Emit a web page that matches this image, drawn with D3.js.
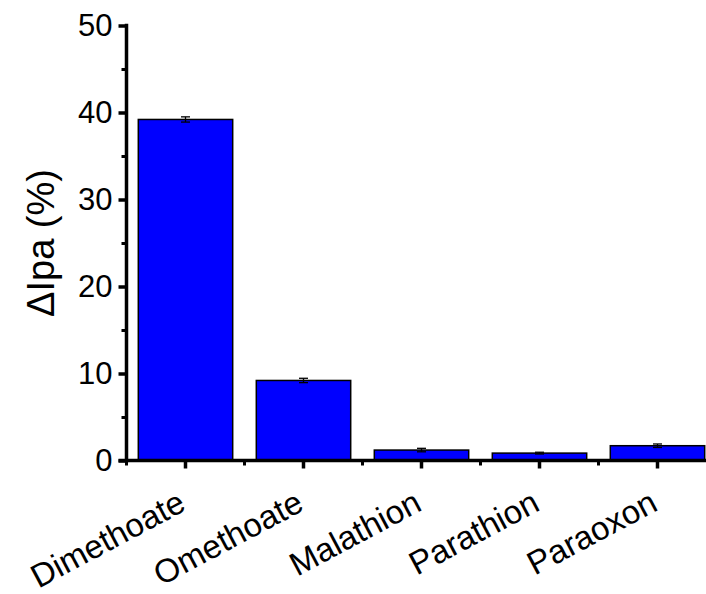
<!DOCTYPE html>
<html>
<head>
<meta charset="utf-8">
<script src="https://cdn.jsdelivr.net/npm/d3@7"></script>
<style>
  html, body { margin: 0; padding: 0; background: #fff; }
  svg { display: block; }
  text { font-family: "Liberation Sans", Arial, sans-serif; fill: #000; }
</style>
</head>
<body>
<svg id="chart" width="706" height="594"></svg>
<script>
// Pesticide response data
const categories = ["Dimethoate", "Omethoate", "Malathion", "Parathion", "Paraoxon"];
const values = [39.2, 9.2, 1.2, 0.85, 1.7];
const errors = [0.3, 0.25, 0.2, 0.1, 0.2];
const yTicks = [0, 10, 20, 30, 40, 50];
const yMinorTicks = [5, 15, 25, 35, 45];
const yTitle = "\u0394Ipa (%)";

const svg = d3.select("#chart");
const x0 = 126.5, step = 118;
const fontFamily = "'Liberation Sans', Arial, sans-serif";

const x = d3.scaleBand()
  .domain(categories)
  .range([x0, x0 + step * categories.length])
  .paddingInner(0.2)
  .paddingOuter(0.1);

const y = d3.scaleLinear().domain([0, 50]).range([460.5, 25.5]);

// Bars
svg.append("g").selectAll("rect")
  .data(categories)
  .join("rect")
  .attr("x", d => x(d))
  .attr("y", (d, i) => y(values[i]))
  .attr("width", x.bandwidth())
  .attr("height", (d, i) => y(0) - y(values[i]))
  .attr("fill", "#0000ff")
  .attr("stroke", "#000")
  .attr("stroke-width", 1.5);

// Error bars
const eb = svg.append("g").attr("stroke", "#000").attr("stroke-width", 1.3);
categories.forEach((c, i) => {
  const cx = x(c) + x.bandwidth() / 2;
  const lo = y(values[i] - errors[i]), hi = y(values[i] + errors[i]);
  eb.append("line").attr("x1", cx).attr("x2", cx).attr("y1", lo).attr("y2", hi);
  eb.append("line").attr("x1", cx - 4.5).attr("x2", cx + 4.5).attr("y1", lo).attr("y2", lo);
  eb.append("line").attr("x1", cx - 4.5).attr("x2", cx + 4.5).attr("y1", hi).attr("y2", hi);
});

// Y axis: major ticks with labels
const yAxis = svg.append("g")
  .attr("transform", `translate(${x0},0)`)
  .call(d3.axisLeft(y).tickValues(yTicks).tickFormat(d3.format("d")).tickSize(8).tickSizeOuter(0).tickPadding(6));
yAxis.select(".domain").style("stroke-width", "3.5px").attr("d", `M0,${y(50) - 1.75}V${y(0) + 1.75}`);
yAxis.selectAll(".tick line").style("stroke-width", "3.5px");
yAxis.selectAll(".tick text").attr("font-size", 31).style("font-family", fontFamily);

// Y axis minor ticks
svg.append("g")
  .attr("transform", `translate(${x0},0)`)
  .call(d3.axisLeft(y).tickValues(yMinorTicks).tickFormat("").tickSize(5).tickSizeOuter(0))
  .call(g => g.select(".domain").remove())
  .selectAll(".tick line").style("stroke-width", "3px");

// X axis: ticks at bar centres
const xAxis = svg.append("g")
  .attr("transform", `translate(0,${y(0)})`)
  .call(d3.axisBottom(x).tickSize(8).tickSizeOuter(0).tickFormat(""));
xAxis.select(".domain").style("stroke-width", "3.5px").attr("d", `M${x0 - 8},0H${x0 + step * categories.length}`);
xAxis.selectAll(".tick line").style("stroke-width", "3.5px");

// X axis minor ticks between categories
const xMinor = categories.map((c, i) => x0 + step * i);
svg.append("g").selectAll("line")
  .data(xMinor)
  .join("line")
  .attr("x1", d => d).attr("x2", d => d)
  .attr("y1", y(0)).attr("y2", y(0) + 5)
  .attr("stroke", "#000").style("stroke-width", "3px");

// Rotated category labels
svg.append("g").selectAll("text")
  .data(categories)
  .join("text")
  .attr("text-anchor", "end")
  .attr("font-size", 33)
  .attr("transform", d => `translate(${x(d) + x.bandwidth() / 2 + 2},${y(0) + 49}) rotate(-28)`)
  .text(d => d);

// Y axis title
svg.append("text")
  .attr("text-anchor", "middle")
  .attr("font-size", 38)
  .attr("transform", `translate(${54},${(y(0) + y(50)) / 2}) rotate(-90)`)
  .text(yTitle);
</script>
</body>
</html>
